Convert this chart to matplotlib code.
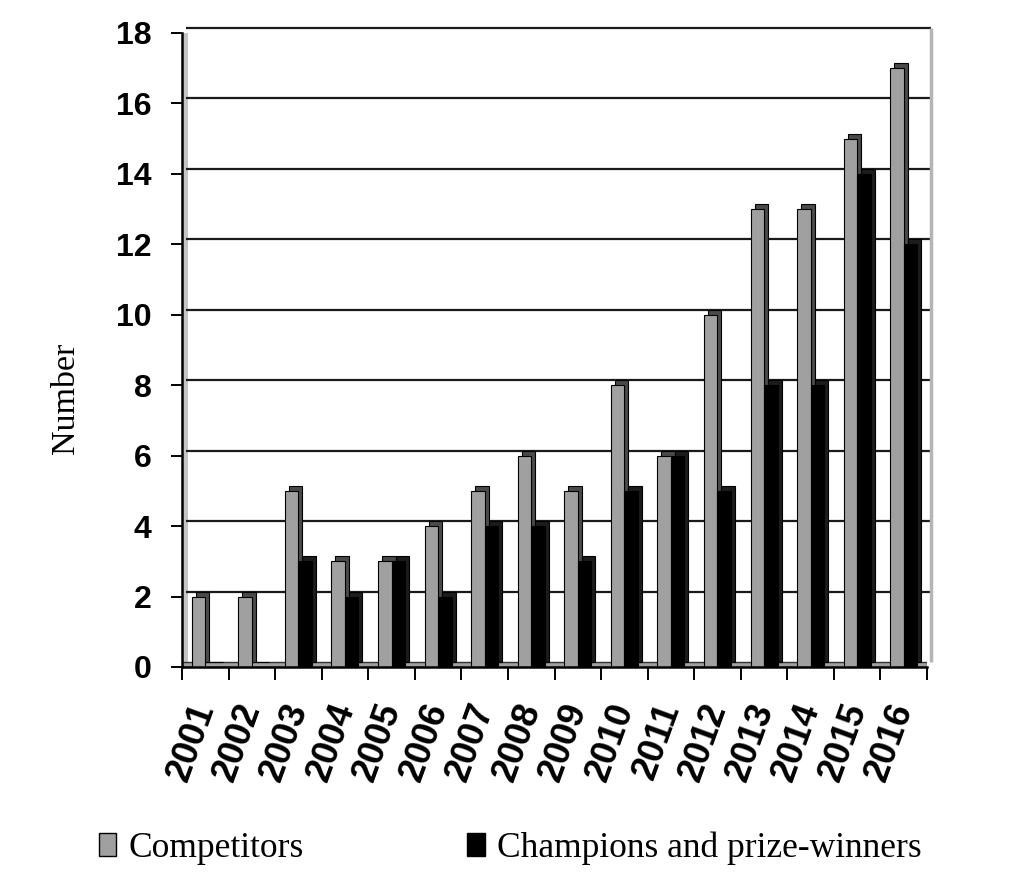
import matplotlib
matplotlib.use('Agg')
import matplotlib.pyplot as plt
from matplotlib.patches import Patch
from matplotlib.transforms import offset_copy, ScaledTranslation
import numpy as np

years = ['2001', '2002', '2003', '2004', '2005', '2006', '2007', '2008',
         '2009', '2010', '2011', '2012', '2013', '2014', '2015', '2016']
competitors = [2, 2, 5, 3, 3, 4, 5, 6, 5, 8, 6, 10, 13, 13, 15, 17]
champions = [0, 0, 3, 2, 3, 2, 4, 4, 3, 5, 6, 5, 8, 8, 14, 12]
yticks = [0, 2, 4, 6, 8, 10, 12, 14, 16, 18]
legend_labels = ['Competitors', 'Champions and prize-winners']

plt.rcParams['font.family'] = ['Liberation Sans', 'DejaVu Sans']

fig = plt.figure(figsize=(10.16, 8.92), dpi=100)
ax = fig.add_axes([182/1016, 1 - 667/892, (927 - 182)/1016, (667 - 33)/892])

x = np.arange(len(years)) + 0.5
w = 0.29
# back plane of the pseudo-3D chart: shifted right and up
depth = offset_copy(ax.transData, fig=fig, x=4, y=5, units='dots')

# walls and floor
ax.hlines(yticks[1:], 0, len(years), colors='#1a1a1a', lw=1.6,
          transform=depth, clip_on=False, zorder=1)
ax.vlines(len(years), 0, yticks[-1], colors='#b5b5b5', lw=2.5,
          transform=depth, clip_on=False, zorder=1)
ax.axvspan(0, 0.13, facecolor='#c4c4c4', edgecolor='none', zorder=0.5)
ax.axhspan(0, 0.14, facecolor='#a0a0a0', edgecolor='#333333', lw=1, zorder=1.5)

series = [(competitors, '#a0a0a0', '#4a4a4a', -w),
          (champions, '#000000', '#1c1c1c', 0)]
for vals, face, side, offs in series:
    ax.bar(x + offs, vals, w, align='edge', color=side, edgecolor='black',
           lw=0.8, transform=depth, zorder=2)
    ax.bar(x + offs, vals, w, align='edge', color=face, edgecolor='black',
           lw=0.8, zorder=3)

ax.set_xlim(0, len(years))
ax.set_ylim(0, yticks[-1])

for s in ['top', 'right']:
    ax.spines[s].set_visible(False)
for s in ['left', 'bottom']:
    ax.spines[s].set_linewidth(1.8)
    ax.spines[s].set_zorder(4)

ax.set_yticks(yticks, labels=[str(v) for v in yticks], fontweight='bold', fontsize=23)
ax.tick_params(axis='y', length=8, width=1.4, pad=14)

ax.set_xticks(np.arange(len(years) + 1), labels=[''] * (len(years) + 1))
ax.set_xticks(x, labels=years, minor=True, rotation=70, ha='right', va='center',
              rotation_mode='anchor', fontsize=26, fontweight='bold')
ax.tick_params(axis='x', which='major', length=9, width=1.4)
ax.tick_params(axis='x', which='minor', length=0, pad=27)
for lab in ax.get_xticklabels(minor=True):
    lab.set_transform(lab.get_transform() + ScaledTranslation(0.0, 0, fig.dpi_scale_trans))

ax.set_ylabel('Number', fontfamily='Liberation Serif', fontsize=24.5)
ax.yaxis.set_label_coords(-0.135, 0.424)

handles = [Patch(facecolor='#a0a0a0', edgecolor='black'),
           Patch(facecolor='black', edgecolor='black')]
fig.legend(handles, legend_labels, loc='center', bbox_to_anchor=(0.502, 0.049),
           ncol=2, frameon=False, prop={'family': 'Liberation Serif', 'size': 25.5},
           handlelength=0.5, handleheight=0.6, handletextpad=0.35, columnspacing=4.6)

fig.savefig('out.png', dpi=100)
